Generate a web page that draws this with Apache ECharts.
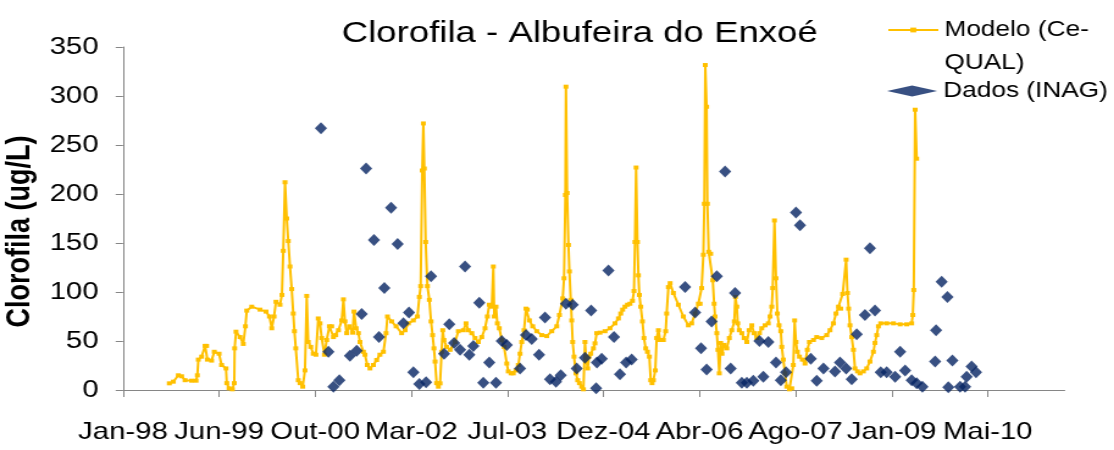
<!DOCTYPE html>
<html>
<head>
<meta charset="utf-8">
<script src="https://cdn.jsdelivr.net/npm/echarts@6/dist/echarts.min.js"></script>
<style>
  html, body { margin: 0; padding: 0; background: #fff; overflow: hidden; }
  /* chart drawn at a narrower width and widened horizontally */
  #grafico { width: 913px; height: 450px; transform: scaleX(1.2202); transform-origin: 0 0; }
</style>
</head>
<body>
<div id="grafico"></div>
<script>
// Time axis: days counted from 28-Jan-1998
const ORIGEM = Date.UTC(1998, 0, 28);
const MESES = ['Jan', 'Fev', 'Mar', 'Abr', 'Mai', 'Jun', 'Jul', 'Ago', 'Set', 'Out', 'Nov', 'Dez'];

// Tick positions (days) and y tick values
const marcasX = [0, 500, 1000, 1500, 2000, 2500, 3000, 3500, 4000, 4500];
const marcasY = [0, 50, 100, 150, 200, 250, 300, 350];

// Modelo (Ce-QUAL): day, chlorophyll (ug/L)
const diasModelo = [
  241, 262, 288, 305, 323, 357, 380, 387, 392, 409, 427, 435, 439, 461, 475, 500, 513, 536, 540, 552,
  569, 579, 581, 588, 609, 626, 637, 644, 670, 713, 744, 762, 774, 786, 796, 817, 827, 834, 843, 852,
  860, 869, 878, 886, 892, 899, 912, 921, 935, 947, 956, 964, 977, 990, 1004, 1016, 1025, 1034, 1048, 1060,
  1074, 1086, 1095, 1107, 1121, 1138, 1147, 1155, 1164, 1178, 1195, 1202, 1213, 1225, 1233, 1251, 1259, 1271, 1285, 1303,
  1320, 1337, 1355, 1369, 1376, 1398, 1421, 1450, 1468, 1485, 1511, 1532, 1542, 1549, 1557, 1563, 1568, 1575, 1584, 1594,
  1603, 1611, 1618, 1624, 1632, 1641, 1650, 1658, 1664, 1670, 1684, 1702, 1728, 1745, 1771, 1785, 1797, 1815, 1832, 1849,
  1867, 1884, 1896, 1906, 1919, 1927, 1932, 1941, 1948, 1958, 1971, 1983, 1997, 2005, 2019, 2031, 2045, 2057, 2066, 2075,
  2087, 2097, 2104, 2115, 2132, 2153, 2179, 2205, 2231, 2257, 2271, 2288, 2295, 2302, 2305, 2311, 2318, 2323, 2330, 2335,
  2340, 2347, 2357, 2366, 2375, 2387, 2396, 2404, 2410, 2418, 2425, 2434, 2448, 2456, 2465, 2482, 2508, 2534, 2560, 2578,
  2590, 2600, 2612, 2625, 2638, 2651, 2659, 2664, 2670, 2677, 2682, 2687, 2694, 2703, 2711, 2720, 2729, 2739, 2746, 2753,
  2760, 2770, 2777, 2786, 2795, 2812, 2824, 2829, 2838, 2847, 2864, 2890, 2916, 2942, 2959, 2977, 2994, 3003, 3011, 3020,
  3025, 3030, 3037, 3041, 3048, 3058, 3069, 3076, 3081, 3090, 3096, 3103, 3110, 3117, 3128, 3142, 3155, 3168, 3181, 3187,
  3194, 3199, 3207, 3220, 3232, 3246, 3258, 3272, 3284, 3298, 3312, 3324, 3341, 3358, 3367, 3376, 3381, 3390, 3398, 3405,
  3414, 3423, 3428, 3436, 3445, 3454, 3468, 3480, 3488, 3495, 3502, 3509, 3520, 3535, 3549, 3561, 3572, 3593, 3610, 3636,
  3662, 3679, 3697, 3710, 3723, 3735, 3745, 3763, 3770, 3776, 3783, 3792, 3801, 3809, 3822, 3835, 3853, 3870, 3887, 3905,
  3913, 3922, 3931, 3943, 3974, 4009, 4044, 4078, 4104, 4110, 4115, 4122, 4130
];
const valoresModelo = [
  6.8, 8.5, 15, 14, 10, 9.5, 9.5, 15, 31, 34, 45, 45, 31, 30, 39, 37, 25.5, 22, 7, 1.7,
  0.7, 7, 42.5, 59.5, 54, 47, 65, 81, 85, 82, 80, 75, 63, 75, 90, 87, 97, 142, 212, 175,
  152, 126, 103, 78, 60, 42.5, 10, 7, 3.4, 20, 96, 49, 44, 37, 36, 73, 68, 53, 36, 51,
  65, 65, 54, 56, 61, 71, 92.5, 70, 58, 65, 58.5, 80, 63, 58, 49, 39, 36, 25.5, 22, 25.5,
  30.6, 36, 39, 58, 75, 70, 65, 58, 61, 68, 71, 75, 95, 106, 224, 272, 226, 151, 106, 92,
  70, 56, 42.5, 29, 7, 3.4, 6.8, 39, 61, 51, 44, 41, 49, 60, 61, 68, 61, 58, 53, 49,
  54, 63, 75, 87, 85, 126, 75, 85, 68, 63, 51, 44, 27, 19, 17, 17, 20, 25.5, 37, 49,
  61, 83, 82, 71, 65, 60, 56, 55, 60, 65, 76.5, 93.5, 114, 199, 309.5, 201, 148, 121, 92, 71,
  49, 34, 17, 10, 7, 3.4, 0.7, 49, 31, 22, 34, 37, 42.5, 47.6, 58, 58.5, 60, 63, 68, 73,
  78, 82, 85, 87, 88, 91, 101, 151, 227, 151, 117, 97, 85, 70, 53, 42.5, 39, 34, 10, 7,
  10, 20, 53, 61, 51, 51, 60, 78, 105, 109, 99, 87, 75, 66, 68, 78, 88, 88, 104, 138,
  190, 331.6, 289, 190, 141, 139, 112, 88, 75, 58, 41, 17, 48, 37, 46, 42.5, 53, 61, 70, 95,
  85, 68, 61, 58, 53, 49, 61, 66, 58, 53, 58, 63, 66, 68, 75, 85, 104, 173, 114, 78,
  66, 60, 44, 31, 17, 3.4, 0.7, 1.7, 25.5, 71, 49, 39, 34, 31, 27, 41, 49, 51, 54, 53,
  56, 61, 68, 78, 85, 83, 98, 133, 99, 83, 66, 54, 41, 22, 19, 17, 19, 22, 29, 39,
  48, 56, 65, 68, 68, 68, 67, 67, 68, 76.5, 102, 286, 236
];

// Dados (INAG): day, chlorophyll (ug/L)
const diasDados = [
  1030, 1069, 1095, 1126, 1181, 1216, 1242, 1265, 1306, 1332, 1360, 1395, 1429, 1459, 1488, 1511, 1542, 1577, 1603, 1671,
  1698, 1723, 1754, 1780, 1802, 1823, 1854, 1875, 1906, 1941, 1971, 1997, 2066, 2097, 2127, 2165, 2196, 2222, 2253, 2278,
  2305, 2340, 2361, 2404, 2436, 2462, 2466, 2491, 2526, 2555, 2586, 2618, 2647, 2925, 2977, 3008, 3037, 3063, 3090, 3133,
  3162, 3185, 3220, 3246, 3280, 3312, 3332, 3358, 3398, 3423, 3450, 3502, 3523, 3579, 3610, 3645, 3705, 3731, 3763, 3792,
  3818, 3861, 3887, 3913, 3943, 3974, 4018, 4044, 4070, 4104, 4130, 4160, 4226, 4231, 4260, 4290, 4295, 4316, 4356, 4382,
  4390, 4416, 4439
];
const valoresDados = [
  267, 39, 3.4, 10, 35, 40, 77.5, 226, 153, 54, 104, 186, 149, 68, 79, 18, 6, 8, 116, 37,
  67, 48, 41, 126, 36, 45, 89, 7.5, 28, 7.5, 50, 46, 22, 56, 52, 36, 74, 11, 8.5, 15,
  88, 87, 22, 33, 81, 1.7, 28, 32, 122, 54, 16, 28, 31, 105, 79, 42.5, 21, 70, 116, 223,
  22, 99, 7.5, 7.5, 9.5, 50, 13.6, 49, 28, 10, 18, 181, 168, 32, 9.5, 22, 19, 28, 22, 11,
  57, 76.5, 144.6, 81, 18, 18, 13.6, 39, 20, 10, 7, 3.4, 29, 61, 110.5, 95, 2.7, 30, 3.4, 3.4,
  13.6, 24, 18
];

function rotuloData(dias) {
  const t = new Date(ORIGEM + dias * 86400000);
  return MESES[t.getUTCMonth()] + '-' + String(t.getUTCFullYear()).slice(2);
}

const FONTE = '"Liberation Sans", Arial, sans-serif';
const COR_EIXO = '#868686';

const grafico = echarts.init(document.getElementById('grafico'), null, { renderer: 'canvas' });

grafico.setOption({
  animation: false,
  backgroundColor: '#ffffff',
  textStyle: { fontFamily: FONTE },
  title: {
    text: 'Clorofila - Albufeira do Enxoé',
    left: 280,
    top: 19,
    padding: 0,
    textStyle: { fontFamily: FONTE, fontSize: 30, fontWeight: 'normal', color: '#000' }
  },
  legend: [
    {
      // empty first line keeps the marker level with "Modelo (Ce-"
      data: ['Modelo (Ce-QUAL)'],
      left: 727,
      top: -19.5,
      padding: 0,
      itemWidth: 41,
      itemHeight: 6,
      selectedMode: false,
      formatter: () => ' \nModelo (Ce-\nQUAL)',
      textStyle: { fontFamily: FONTE, fontSize: 21.5, lineHeight: 33, color: '#000' }
    },
    {
      data: ['Dados (INAG)'],
      left: 727,
      top: 74.5,
      padding: 0,
      itemWidth: 41,
      itemHeight: 11,
      selectedMode: false,
      textStyle: { fontFamily: FONTE, fontSize: 21.5, lineHeight: 33, color: '#000' }
    }
  ],
  grid: { left: 100.8, right: 40.5, top: 47, bottom: 60, outerBoundsMode: 'none' },
  xAxis: {
    type: 'value',
    min: 0,
    max: 4900,
    interval: 500,
    splitLine: { show: false },
    axisLine: { show: true, onZero: false, lineStyle: { color: COR_EIXO, width: 1 } },
    axisTick: { show: true, inside: false, length: 7, customValues: marcasX, lineStyle: { color: COR_EIXO } },
    axisLabel: {
      customValues: marcasX,
      showMinLabel: true,
      margin: 30,
      fontFamily: FONTE,
      fontSize: 24,
      color: '#000',
      formatter: v => rotuloData(v)
    }
  },
  yAxis: {
    type: 'value',
    min: 0,
    max: 350,
    interval: 50,
    name: 'Clorofila (ug/L)',
    nameLocation: 'middle',
    nameGap: 59,
    nameTextStyle: { fontFamily: FONTE, fontSize: 27, fontWeight: 'bold', color: '#000', padding: [0, 26, 0, 0] },
    splitLine: { show: false },
    axisLine: { show: true, lineStyle: { color: COR_EIXO, width: 1 } },
    axisTick: { show: true, inside: false, length: 6, customValues: marcasY, lineStyle: { color: COR_EIXO } },
    axisLabel: {
      customValues: marcasY,
      margin: 20,
      fontFamily: FONTE,
      fontSize: 24,
      color: '#000'
    }
  },
  series: [
    {
      name: 'Modelo (Ce-QUAL)',
      type: 'line',
      data: diasModelo.map((d, i) => [d, valoresModelo[i]]),
      symbol: 'rect',
      symbolSize: 4,
      showAllSymbol: true,
      color: '#FFC000',
      lineStyle: { color: '#FFC000', width: 2 },
      itemStyle: { color: '#FFC000' },
      z: 2
    },
    {
      name: 'Dados (INAG)',
      type: 'scatter',
      data: diasDados.map((d, i) => [d, valoresDados[i]]),
      symbol: 'diamond',
      symbolSize: [10, 12],
      color: '#062463',
      itemStyle: { color: '#062463' },
      z: 3
    }
  ]
});
</script>
</body>
</html>
